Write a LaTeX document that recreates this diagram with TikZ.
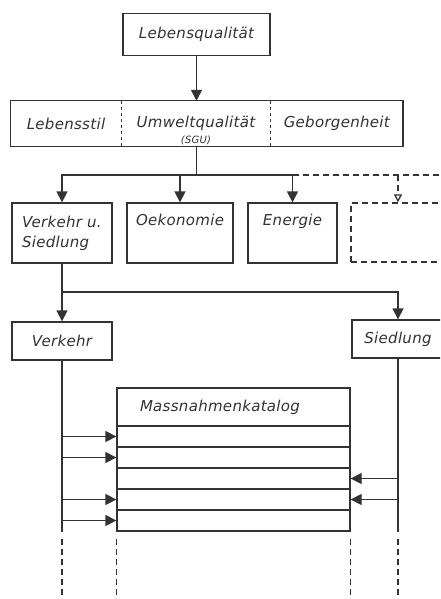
\documentclass[tikz,border=0pt]{standalone}
\usepackage{fontspec}
\newfontfamily\zeichner{DejaVu Sans}[LetterSpace=2]
\usetikzlibrary{arrows.meta,positioning}
\definecolor{tusche}{gray}{0.2}
\begin{document}
\begin{tikzpicture}[x=1pt,y=-1pt,
  every node/.style={font=\zeichner\itshape\fontsize{15}{20}\selectfont, text=tusche},
  kasten/.style={draw=tusche, line width=1.3pt, inner sep=0pt},
  teil/.style={inner sep=0pt, minimum height=45pt},
  linie/.style={draw=tusche, line width=1.3pt},
  strich/.style={linie, dash pattern=on 6pt off 4pt},
  pfeil/.style={linie, -{Triangle[length=11pt,width=11pt]}}]
  \clip (0,0) rectangle (440,599);
  \fill[white] (0,0) rectangle (440,599);
  \coordinate (unten) at (0,599);

  \node[kasten, minimum width=147pt, minimum height=42pt] (lq) at (196.5,34.5) {Lebensqualität};

  \node[teil, minimum width=110pt] (stil) at (66,123.5) {Lebensstil};
  \node[teil, minimum width=149pt, right=0pt of stil] (umw) {Umweltqualität};
  \node[teil, minimum width=132pt, right=0pt of umw] (geb) {Geborgenheit};
  \node[font=\zeichner\itshape\fontsize{10}{11}\selectfont] (sgu) at (196,140) {(SGU)};
  \draw[linie] (stil.north west) rectangle (geb.south east);
  \draw[linie, dashed] (stil.north east) -- (stil.south east);
  \draw[linie, dashed] (umw.north east) -- (umw.south east);

  \node[kasten, minimum width=100pt, minimum height=60pt, text width=80pt, align=left] (vs) at (62,233) {Verkehr u.\\Siedlung};
  \node[kasten, minimum width=106pt, minimum height=60pt, align=center] (oek) at (180,233) {Oekonomie\\\strut};
  \node[kasten, minimum width=89pt, minimum height=60pt, align=center] (en) at (292.5,233) {Energie\\\strut};
  \node[kasten, dash pattern=on 6pt off 4pt, minimum width=94pt, minimum height=59pt] (leer) at (398,232.5) {};

  \node[kasten, minimum width=100pt, minimum height=38pt] (verk) at (62,341) {Verkehr};
  \node[kasten, minimum width=92pt, minimum height=38pt] (sied) at (398,339) {Siedlung};

  \node[kasten, minimum width=233pt, minimum height=38pt, text width=187pt, align=left] (kat) at (233.5,407) {Massnahmenkatalog};
  \foreach \i in {1,...,5}
    \node[kasten, minimum width=233pt, minimum height=21pt] (z\i) at (233.5,{415.5+21*\i}) {};

%verzweigung unter den Zielen
  \coordinate (ver) at (196.5,175);
  \coordinate (ver2) at (62,292);
  \draw[pfeil] (lq) -- (umw.north -| lq.south);
  \draw[linie] (lq.south |- umw.south) -- (ver);
  \draw[pfeil] (ver) -| (vs.north);
  \draw[pfeil] (ver) -| (oek.north);
  \draw[pfeil] (ver) -| (en.north);
  \draw[strich] (en.north |- ver) -- (leer.north east |- ver);
  \draw[strich, -{Triangle[open,length=8pt,width=8pt]}] (leer.north |- ver) -- (leer.north);

  \draw[linie] (vs.south) -- (ver2);
  \draw[pfeil] (ver2) -- (verk.north);
  \draw[pfeil] (ver2) -| (sied.north);

  \draw[linie] (verk.south) -- (verk.south |- z5.south);
  \draw[linie] (sied.south) -- (sied.south |- z5.south);
  \foreach \i in {1,2,4,5}
    \draw[pfeil] (verk.south |- z\i.west) -- (z\i.west);
  \foreach \i in {3,4}
    \draw[pfeil] (sied.south |- z\i.east) -- (z\i.east);

  \draw[strich] (verk.south |- z5.south) ++(0,7) -- (verk.south |- unten);
  \draw[strich] (z5.south west) ++(0,7) -- (z5.south west |- unten);
  \draw[strich] (z5.south east) ++(0,7) -- (z5.south east |- unten);
  \draw[strich] (sied.south |- z5.south) ++(0,7) -- (sied.south |- unten);
\end{tikzpicture}
\end{document}
